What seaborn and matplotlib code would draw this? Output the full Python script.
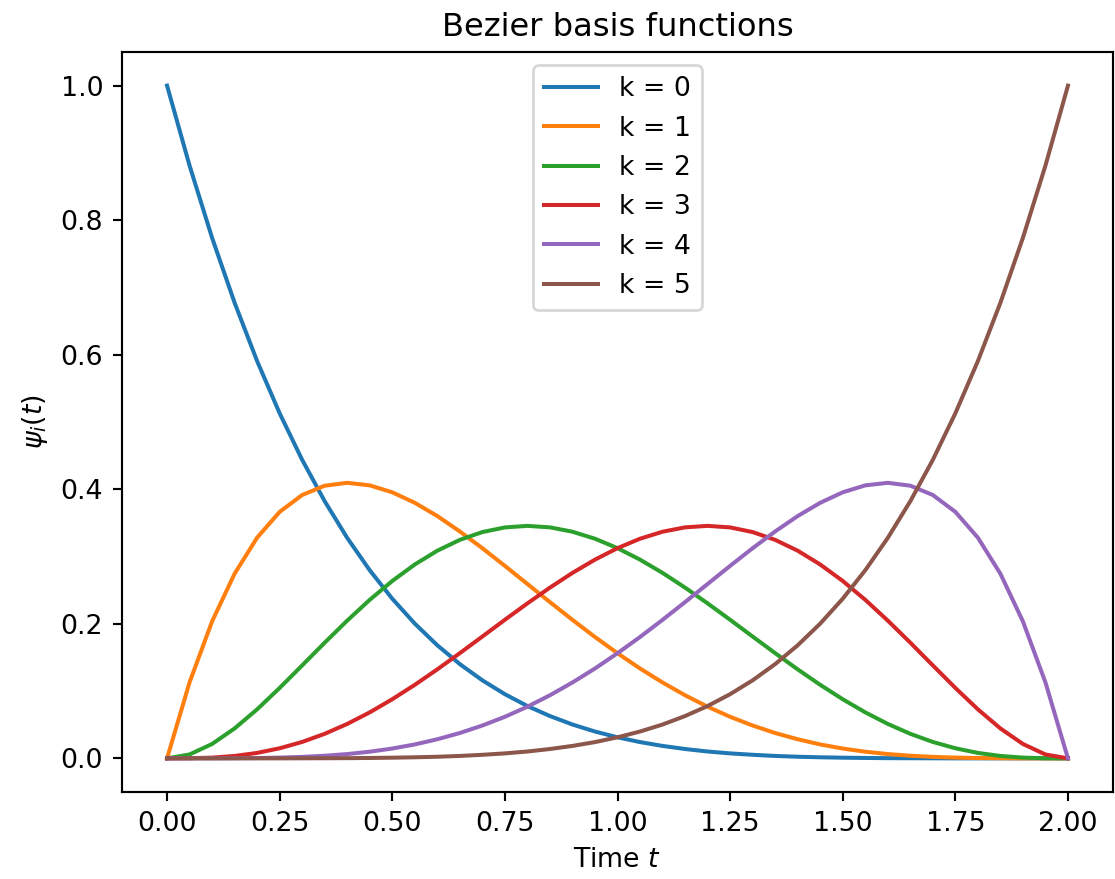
import pandas as pd
import numpy as np
import seaborn as sns
import matplotlib.pyplot as plt

t = [0.00, 0.05, 0.10, 0.15, 0.20, 0.25, 0.30, 0.35, 0.40, 0.45,
     0.50, 0.55, 0.60, 0.65, 0.70, 0.75, 0.80, 0.85, 0.90, 0.95,
     1.00, 1.05, 1.10, 1.15, 1.20, 1.25, 1.30, 1.35, 1.40, 1.45,
     1.50, 1.55, 1.60, 1.65, 1.70, 1.75, 1.80, 1.85, 1.90, 1.95, 2.00]
k0 = [1.0, .8811, .7738, .6772, .5905, .5129, .4437, .3822, .3277, .2796,
      .2373, .2003, .1681, .1401, .1160, .0954, .0778, .0629, .0503, .0399,
      .0313, .0242, .0185, .0139, .0102, .0074, .0053, .0036, .0024, .0016,
      .0010, .0006, .0003, .0002, .0001, 0.0, 0.0, 0.0, 0.0, 0.0, 0.0]
k1 = [0.0, .1130, .2036, .2745, .3281, .3664, .3915, .4053, .4096, .4058,
      .3955, .3799, .3602, .3373, .3124, .2861, .2592, .2323, .2059, .1804,
      .1563, .1336, .1128, .0938, .0768, .0618, .0488, .0377, .0284, .0207,
      .0146, .0099, .0064, .0039, .0022, .0011, .0005, .0002, 0.0, 0.0, 0.0]
k2 = [0.0, .0058, .0214, .0445, .0729, .1047, .1382, .1720, .2048, .2357,
      .2637, .2882, .3087, .3248, .3364, .3433, .3456, .3434, .3369, .3265,
      .3125, .2954, .2757, .2538, .2304, .2060, .1811, .1564, .1323, .1093,
      .0879, .0684, .0512, .0365, .0244, .0150, .0081, .0036, .0011, .0002, 0.0]
k3 = [0.0, .0002, .0011, .0036, .0081, .0150, .0244, .0365, .0512, .0684,
      .0879, .1093, .1323, .1564, .1811, .2060, .2304, .2538, .2757, .2954,
      .3125, .3265, .3369, .3434, .3456, .3433, .3364, .3248, .3087, .2882,
      .2637, .2357, .2048, .1720, .1382, .1047, .0729, .0445, .0214, .0058, 0.0]
k4 = [0.0, 0.0, 0.0, .0002, .0005, .0011, .0022, .0039, .0064, .0099,
      .0146, .0207, .0284, .0377, .0488, .0618, .0768, .0938, .1128, .1336,
      .1563, .1804, .2059, .2323, .2592, .2861, .3124, .3373, .3602, .3799,
      .3955, .4058, .4096, .4053, .3915, .3664, .3281, .2745, .2036, .1130, 0.0]
k5 = [0.0, 0.0, 0.0, 0.0, 0.0, 0.0, .0001, .0002, .0003, .0006,
      .0010, .0016, .0024, .0036, .0053, .0074, .0102, .0139, .0185, .0242,
      .0313, .0399, .0503, .0629, .0778, .0954, .1160, .1401, .1681, .2003,
      .2373, .2796, .3277, .3822, .4437, .5129, .5905, .6772, .7738, .8811, 1.0]
labels = ["k = 0", "k = 1", "k = 2", "k = 3", "k = 4", "k = 5"]

frames = []
for lab, vals in zip(labels, [k0, k1, k2, k3, k4, k5]):
    frames.append(pd.DataFrame({"t": t, "psi": vals, "k": lab}))
df = pd.concat(frames, ignore_index=True)

dpi = 193
fig = plt.figure(figsize=(1115 / dpi, 879 / dpi), dpi=dpi)
ax = fig.add_axes([122 / 1115, 1 - 792 / 879, (1113 - 122) / 1115, (792 - 52) / 879])
sns.lineplot(data=df, x="t", y="psi", hue="k", palette="tab10", linewidth=1.5, ax=ax)

ax.set_title("Bezier basis functions")
ax.set_xlabel("Time $t$")
ax.set_ylabel(r"$\psi_i(t)$")
ax.legend(loc="upper center")

fig.savefig("out.png", dpi=dpi)
